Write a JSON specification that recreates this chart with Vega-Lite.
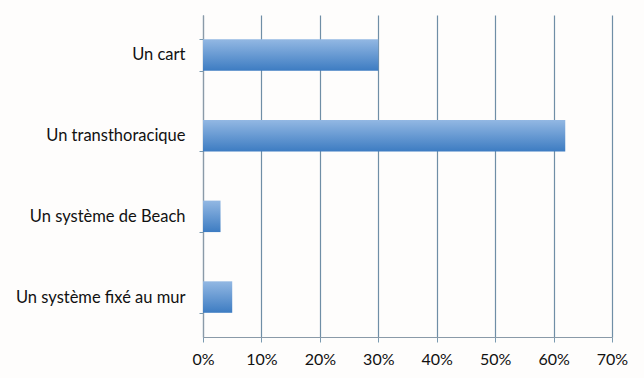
{
  "$schema": "https://vega.github.io/schema/vega-lite/v6.json",
  "width": 409,
  "height": 322,
  "autosize": {"type": "none"},
  "padding": {"left": 203, "top": 15, "right": 32, "bottom": 41},
  "background": "#fefdfc",
  "data": {"values": [
    {"type": "Un cart", "pct": 0.30},
    {"type": "Un transthoracique", "pct": 0.62},
    {"type": "Un système de Beach", "pct": 0.03},
    {"type": "Un système fixé au mur", "pct": 0.05}
  ]},
  "mark": {
    "type": "bar",
    "color": {
      "gradient": "linear", "x1": 0, "y1": 0, "x2": 0, "y2": 1,
      "stops": [
        {"offset": 0, "color": "#93b8e3"},
        {"offset": 1, "color": "#3d7cc2"}
      ]
    }
  },
  "encoding": {
    "y": {
      "field": "type", "type": "nominal", "sort": null, "title": null,
      "scale": {"paddingInner": 0.61, "paddingOuter": 0.3},
      "axis": {
        "tickBand": "extent", "tickSize": 4, "tickColor": "#7a9ab0",
        "domainColor": "#8a9aa8", "domainWidth": 1.2,
        "labelFont": "Lato", "labelFontSize": 16.5, "labelColor": "#111111",
        "labelPadding": 14, "grid": false
      }
    },
    "x": {
      "field": "pct", "type": "quantitative", "title": null,
      "scale": {"domain": [0, 0.7]},
      "axis": {
        "format": ".0%", "values": [0, 0.1, 0.2, 0.3, 0.4, 0.5, 0.6, 0.7],
        "labelFlush": false,
        "grid": true, "gridColor": "#6f8ea6", "gridWidth": 1.2,
        "tickSize": 5, "tickColor": "#7a9ab0",
        "domainColor": "#8a9aa8", "domainWidth": 1.2,
        "labelFont": "Lato", "labelFontSize": 16, "labelColor": "#111111",
        "labelPadding": 9
      }
    }
  },
  "config": {"view": {"stroke": null}}
}
